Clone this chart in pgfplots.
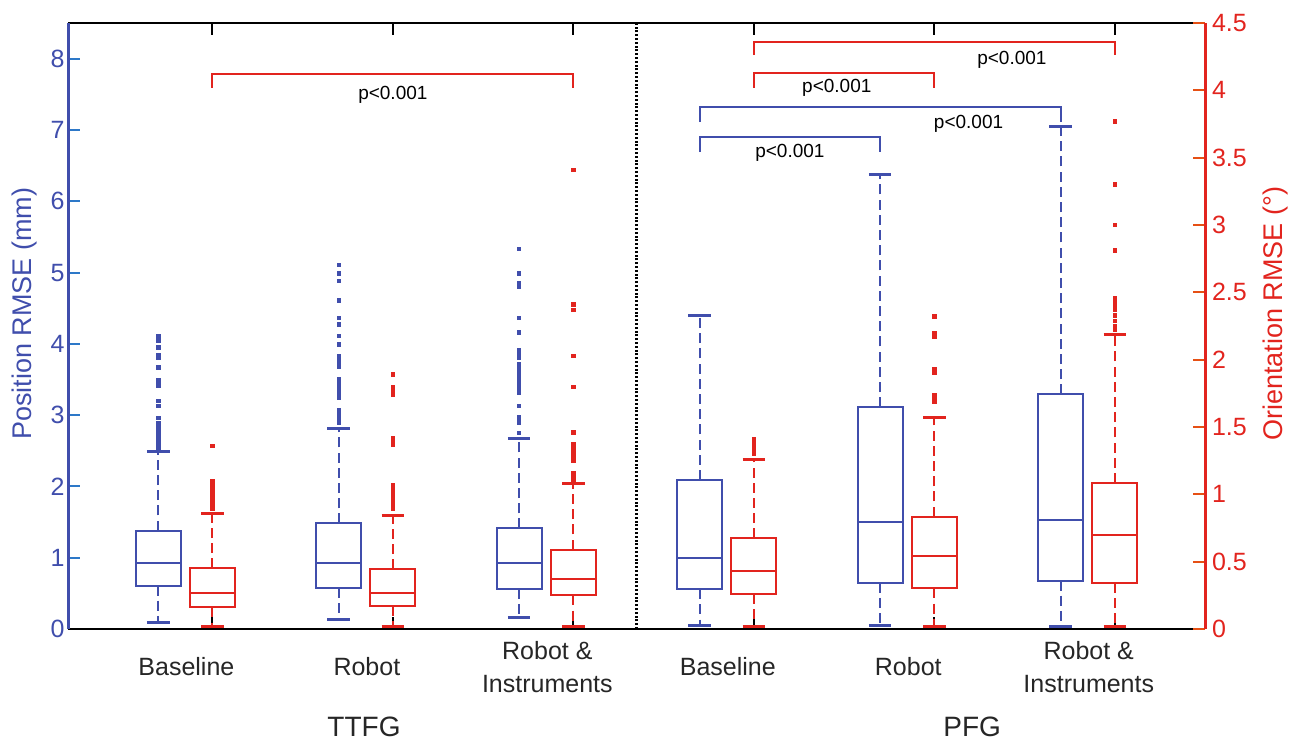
\documentclass[border=0pt]{standalone}
\usepackage{fontspec}
\setmainfont{Liberation Sans}
\usepackage{pgfplots}
\pgfplotsset{compat=1.18}
\usepgfplotslibrary{statistics}

\definecolor{posblue}{RGB}{64,78,172}
\definecolor{orired}{RGB}{226,36,30}
\definecolor{ltick}{RGB}{45,120,200}
\definecolor{rtick}{RGB}{230,80,20}

\pgfplotsset{
  rmse/.style={
    scale only axis, width=568.5pt, height=303pt,
    xmin=0.2, xmax=6.5,
    clip=false,
    /pgf/number format/assume math mode=true,
    major tick length=6pt,
    boxplot/draw direction=y,
    boxplot/box extend=0.25,
    boxplot/whisker extend=0.125,
    boxplot/every whisker/.style={dash pattern=on 5pt off 2.6pt},
  },
  boxplot/draw/lower whisker/.code={%
    \draw[/pgfplots/boxplot/every whisker/.try]
      (boxplot cs:\pgfplotsboxplotvalue{lower quartile}) --
      (boxplot cs:\pgfplotsboxplotvalue{lower whisker});
    \draw[solid, line width=1.5pt]
      (boxplot whisker cs:\pgfplotsboxplotvalue{lower whisker},0) --
      (boxplot whisker cs:\pgfplotsboxplotvalue{lower whisker},1);
  },
  boxplot/draw/upper whisker/.code={%
    \draw[/pgfplots/boxplot/every whisker/.try]
      (boxplot cs:\pgfplotsboxplotvalue{upper quartile}) --
      (boxplot cs:\pgfplotsboxplotvalue{upper whisker});
    \draw[solid, line width=1.5pt]
      (boxplot whisker cs:\pgfplotsboxplotvalue{upper whisker},0) --
      (boxplot whisker cs:\pgfplotsboxplotvalue{upper whisker},1);
  },
  outl/.style={only marks, mark=square*, mark size=0.85pt},
}

\begin{document}
\begin{tikzpicture}
% ---- position RMSE (left axis, blue)
\begin{axis}[
  rmse,
  ymin=0, ymax=8.5,
  axis y line*=left,
  y axis line style={posblue, line width=1.5pt},
  x axis line style={black, line width=0.8pt},
  ytick={0,1,...,8},
  ytick align=inside,
  ytick style={ltick, line width=1pt},
  yticklabel style={posblue, font=\fontsize{12.5}{14}\selectfont, inner sep=1.5pt},
  xtick={1,2,3,4,5,6},
  xtick align=inside,
  xtick pos=both,
  xtick style={black, line width=1pt},
  xticklabels={Baseline, Robot, {Robot \&\\Instruments}, Baseline, Robot, {Robot \&\\Instruments}},
  xticklabel style={font=\fontsize{12.5}{16.5}\selectfont, align=center, anchor=center, yshift=-19pt, xshift=-13pt, text=black!85},
  ylabel={Position RMSE (mm)},
  ylabel style={posblue, font=\fontsize{13.5}{15}\selectfont, at={(axis description cs:-0.038,0.52)}, anchor=center},
]
\addplot[posblue, line width=1pt, boxplot prepared={draw position=0.7, lower whisker=0.09, lower quartile=0.61, median=0.93, upper quartile=1.38, upper whisker=2.49}] coordinates {};
\addplot[posblue, line width=1pt, boxplot prepared={draw position=1.7, lower whisker=0.13, lower quartile=0.575, median=0.92, upper quartile=1.48, upper whisker=2.81}] coordinates {};
\addplot[posblue, line width=1pt, boxplot prepared={draw position=2.7, lower whisker=0.16, lower quartile=0.565, median=0.93, upper quartile=1.41, upper whisker=2.67}] coordinates {};
\addplot[posblue, line width=1pt, boxplot prepared={draw position=3.7, lower whisker=0.05, lower quartile=0.557, median=1.00, upper quartile=2.09, upper whisker=4.40}] coordinates {};
\addplot[posblue, line width=1pt, boxplot prepared={draw position=4.7, lower whisker=0.05, lower quartile=0.65, median=1.50, upper quartile=3.11, upper whisker=6.38}] coordinates {};
\addplot[posblue, line width=1pt, boxplot prepared={draw position=5.7, lower whisker=0.04, lower quartile=0.68, median=1.53, upper quartile=3.29, upper whisker=7.05}] coordinates {};
% outliers
\addplot[outl, posblue] coordinates {
  (0.7,4.11)(0.7,4.08)(0.7,4.04)(0.7,3.95)(0.7,3.84)(0.7,3.80)(0.7,3.67)(0.7,3.49)(0.7,3.45)(0.7,3.41)
  (0.7,3.20)(0.7,3.13)(0.7,2.96)(0.7,2.89)(0.7,2.85)(0.7,2.80)(0.7,2.73)(0.7,2.69)(0.7,2.65)(0.7,2.61)(0.7,2.57)(0.7,2.53)};
\addplot[outl, posblue] coordinates {
  (1.7,5.11)(1.7,4.99)(1.7,4.88)(1.7,4.61)(1.7,4.36)(1.7,4.27)(1.7,4.11)(1.7,3.99)(1.7,3.83)(1.7,3.79)
  (1.7,3.76)(1.7,3.73)(1.7,3.68)(1.7,3.50)(1.7,3.46)(1.7,3.42)(1.7,3.39)(1.7,3.35)(1.7,3.31)(1.7,3.27)
  (1.7,3.25)(1.7,3.07)(1.7,3.03)(1.7,3.00)(1.7,2.97)(1.7,2.90)};
\addplot[outl, posblue] coordinates {
  (2.7,5.33)(2.7,4.99)(2.7,4.85)(2.7,4.80)(2.7,4.36)(2.7,4.16)(2.7,3.91)(2.7,3.87)(2.7,3.83)(2.7,3.80)
  (2.7,3.72)(2.7,3.68)(2.7,3.65)(2.7,3.63)(2.7,3.59)(2.7,3.55)(2.7,3.51)(2.7,3.47)(2.7,3.43)(2.7,3.39)
  (2.7,3.36)(2.7,3.31)(2.7,3.13)(2.7,2.97)(2.7,2.93)(2.7,2.89)(2.7,2.75)};
% separator
\draw[black, line width=1.1pt, dash pattern=on 1pt off 0.9pt] (axis cs:3.35,0) -- (axis cs:3.35,8.5);
% significance brackets
\begin{scope}[line width=1pt]
\draw[orired] (axis cs:1,7.59) |- (axis cs:3,7.78) -- (axis cs:3,7.59);
\draw[orired] (axis cs:4,8.05) |- (axis cs:6,8.23) -- (axis cs:6,8.05);
\draw[orired] (axis cs:4,7.59) |- (axis cs:5,7.80) -- (axis cs:5,7.59);
\draw[posblue] (axis cs:3.7,7.11) |- (axis cs:5.7,7.32) -- (axis cs:5.7,7.11);
\draw[posblue] (axis cs:3.7,6.69) |- (axis cs:4.7,6.90) -- (axis cs:4.7,6.69);
\end{scope}
\begin{scope}[every node/.style={font=\fontsize{9.5}{11}\selectfont, text=black}]
\node at (axis cs:2.0,7.49) {p<0.001};
\node at (axis cs:5.43,7.98) {p<0.001};
\node at (axis cs:4.46,7.59) {p<0.001};
\node at (axis cs:5.19,7.08) {p<0.001};
\node at (axis cs:4.20,6.68) {p<0.001};
\end{scope}
\node[font=\fontsize{14}{16}\selectfont, text=black!85] at (axis cs:1.84,-1.375) {TTFG};
\node[font=\fontsize{14}{16}\selectfont, text=black!85] at (axis cs:5.21,-1.375) {PFG};
\end{axis}
% ---- orientation RMSE (right axis, red)
\begin{axis}[
  rmse,
  ymin=0, ymax=4.5,
  axis x line=none,
  axis y line*=right,
  y axis line style={orired, line width=1.5pt},
  ytick={0,0.5,...,4.5},
  ytick align=inside,
  ytick style={rtick, line width=1pt},
  yticklabel style={orired, font=\fontsize{12.5}{14}\selectfont},
  ylabel={Orientation RMSE (°)},
  ylabel style={orired, font=\fontsize{13.5}{15}\selectfont, at={(axis description cs:1.062,0.52)}, anchor=center},
]
\addplot[orired, line width=1pt, boxplot prepared={draw position=1, lower whisker=0.017, lower quartile=0.16, median=0.27, upper quartile=0.45, upper whisker=0.86}] coordinates {};
\addplot[orired, line width=1pt, boxplot prepared={draw position=2, lower whisker=0.017, lower quartile=0.17, median=0.27, upper quartile=0.443, upper whisker=0.84}] coordinates {};
\addplot[orired, line width=1pt, boxplot prepared={draw position=3, lower whisker=0.017, lower quartile=0.25, median=0.373, upper quartile=0.59, upper whisker=1.08}] coordinates {};
\addplot[orired, line width=1pt, boxplot prepared={draw position=4, lower whisker=0.017, lower quartile=0.258, median=0.433, upper quartile=0.673, upper whisker=1.257}] coordinates {};
\addplot[orired, line width=1pt, boxplot prepared={draw position=5, lower whisker=0.017, lower quartile=0.302, median=0.544, upper quartile=0.834, upper whisker=1.574}] coordinates {};
\addplot[orired, line width=1pt, boxplot prepared={draw position=6, lower whisker=0.017, lower quartile=0.342, median=0.698, upper quartile=1.084, upper whisker=2.19}] coordinates {};
% outliers
\addplot[outl, orired] coordinates {
  (1,1.36)(1,1.10)(1,1.07)(1,1.04)(1,1.01)(1,0.98)(1,0.95)(1,0.92)(1,0.89)};
\addplot[outl, orired] coordinates {
  (2,1.89)(2,1.80)(2,1.78)(2,1.76)(2,1.74)(2,1.42)(2,1.40)(2,1.37)(2,1.07)(2,1.04)(2,1.01)(2,0.98)(2,0.95)(2,0.92)(2,0.89)};
\addplot[outl, orired] coordinates {
  (3,3.41)(3,2.41)(3,2.37)(3,2.03)(3,1.80)(3,1.46)(3,1.37)(3,1.34)(3,1.31)(3,1.28)(3,1.25)(3,1.16)(3,1.14)(3,1.12)(3,1.10)};
\addplot[outl, orired] coordinates {
  (4,1.41)(4,1.38)(4,1.35)(4,1.32)(4,1.30)};
\addplot[outl, orired] coordinates {
  (5,2.32)(5,2.20)(5,2.17)(5,1.93)(5,1.90)(5,1.74)(5,1.71)(5,1.69)};
\addplot[outl, orired] coordinates {
  (6,3.77)(6,3.30)(6,3.00)(6,2.81)(6,2.46)(6,2.43)(6,2.40)(6,2.37)(6,2.33)(6,2.29)(6,2.25)(6,2.22)};
\end{axis}
\pgfresetboundingbox
\path (current axis.south west) ++(-34pt,-57pt) rectangle ([shift={(46pt,11.5pt)}]current axis.north east);
\end{tikzpicture}
\end{document}
